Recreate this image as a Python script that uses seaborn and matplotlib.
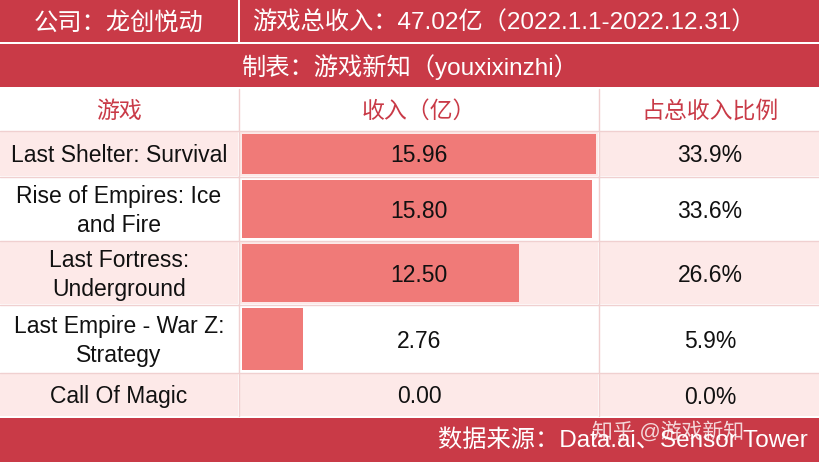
import matplotlib
matplotlib.use("Agg")
import matplotlib.pyplot as plt
import seaborn as sns
from matplotlib.patches import Rectangle

sns.set_theme(style="white")
plt.rcParams['font.family'] = ['Liberation Sans', 'Noto Sans CJK SC', 'DejaVu Sans']

company = "公司：龙创悦动"
total = "游戏总收入：47.02亿（2022.1.1-2022.12.31）"
maker = "制表：游戏新知（youxixinzhi）"
col_headers = ["游戏", "收入（亿）", "占总收入比例"]
games = ["Last Shelter: Survival", "Rise of Empires: Ice\nand Fire", "Last Fortress:\nUnderground",
         "Last Empire - War Z:\nStrategy", "Call Of Magic"]
revenue = [15.96, 15.80, 12.50, 2.76, 0.00]
share = ["33.9%", "33.6%", "26.6%", "5.9%", "0.0%"]
source = "数据来源：Data.ai、Sensor Tower"

RED = "#c93a47"
PINK = "#fde9e8"
BAR = "#f07a78"
W, H = 820, 462
fig = plt.figure(figsize=(8.2, 4.62), dpi=100)
ax = fig.add_axes([0, 0, 1, 1])
ax.set_xlim(0, W); ax.set_ylim(H, 0); ax.axis("off")

def rect(x0, y0, x1, y1, c):
    ax.add_patch(Rectangle((x0, y0), x1 - x0, y1 - y0, color=c, lw=0))

FS = 16.5
rect(0, 0, 238, 42, RED); rect(240, 0, W, 42, RED)
ax.text(119, 23, company, color="white", ha="center", va="center", fontsize=17.5)
ax.text(252, 23, total, color="white", ha="left", va="center", fontsize=17.5)
rect(0, 44, W, 87, RED)
ax.text(W / 2, 67, maker, color="white", ha="center", va="center", fontsize=17.5)
cols = [(0, 238), (240, 598), (600, W)]
for (a, b), t in zip(cols, col_headers):
    ax.text((a + b) / 2, 111, t, color=RED, ha="center", va="center", fontsize=FS)
ax.plot([0, W], [131, 131], color="#f0d0d0", lw=1)
rows = [(132, 176), (178, 240), (242, 304), (306, 372), (374, 416)]
for i, (y0, y1) in enumerate(rows):
    c = PINK if i % 2 == 0 else "white"
    for a, b in cols:
        rect(a, y0, b, y1, c)
    if i % 2 == 1:
        ax.plot([0, W], [y0 - 1, y0 - 1], color="#f0d0d0", lw=1)
        ax.plot([0, W], [y1 + 1, y1 + 1], color="#f0d0d0", lw=1)
    yc = (y0 + y1) / 2 + 2
    ax.text(119, yc, games[i], ha="center", va="center", fontsize=FS, color="#111111", linespacing=1.3)
    ax.text(710, yc, share[i], ha="center", va="center", fontsize=FS, color="#111111")
for x in (239, 599):
    ax.plot([x, x], [89, 416], color="#f0d0d0", lw=1)
rect(0, 418, W, H, RED)
ax.text(808, 441, source, color="white", ha="right", va="center", fontsize=17.5, zorder=6)
ax.text(592, 431, "知乎 @游戏新知", color="white", alpha=0.8, ha="left", va="center", fontsize=15, zorder=6)

bx = fig.add_axes([242 / W, 1 - 416 / H, (598 - 242) / W, (416 - 132) / H])
bx.set_xlim(0, 16.07); bx.set_ylim(416, 132); bx.axis("off"); bx.patch.set_alpha(0)
centers = [(a + b) / 2 for a, b in rows]
heights = [(b - a) - 4 for a, b in rows]
bx.barh(centers, revenue, height=heights, color=BAR, lw=0)
xmid = (419 - 242) / (598 - 242) * 16.07
for yc, v in zip(centers, revenue):
    bx.text(xmid, yc + 2, f"{v:.2f}", ha="center", va="center", fontsize=FS, color="#111111", zorder=5)

fig.savefig("out.png", dpi=100)
